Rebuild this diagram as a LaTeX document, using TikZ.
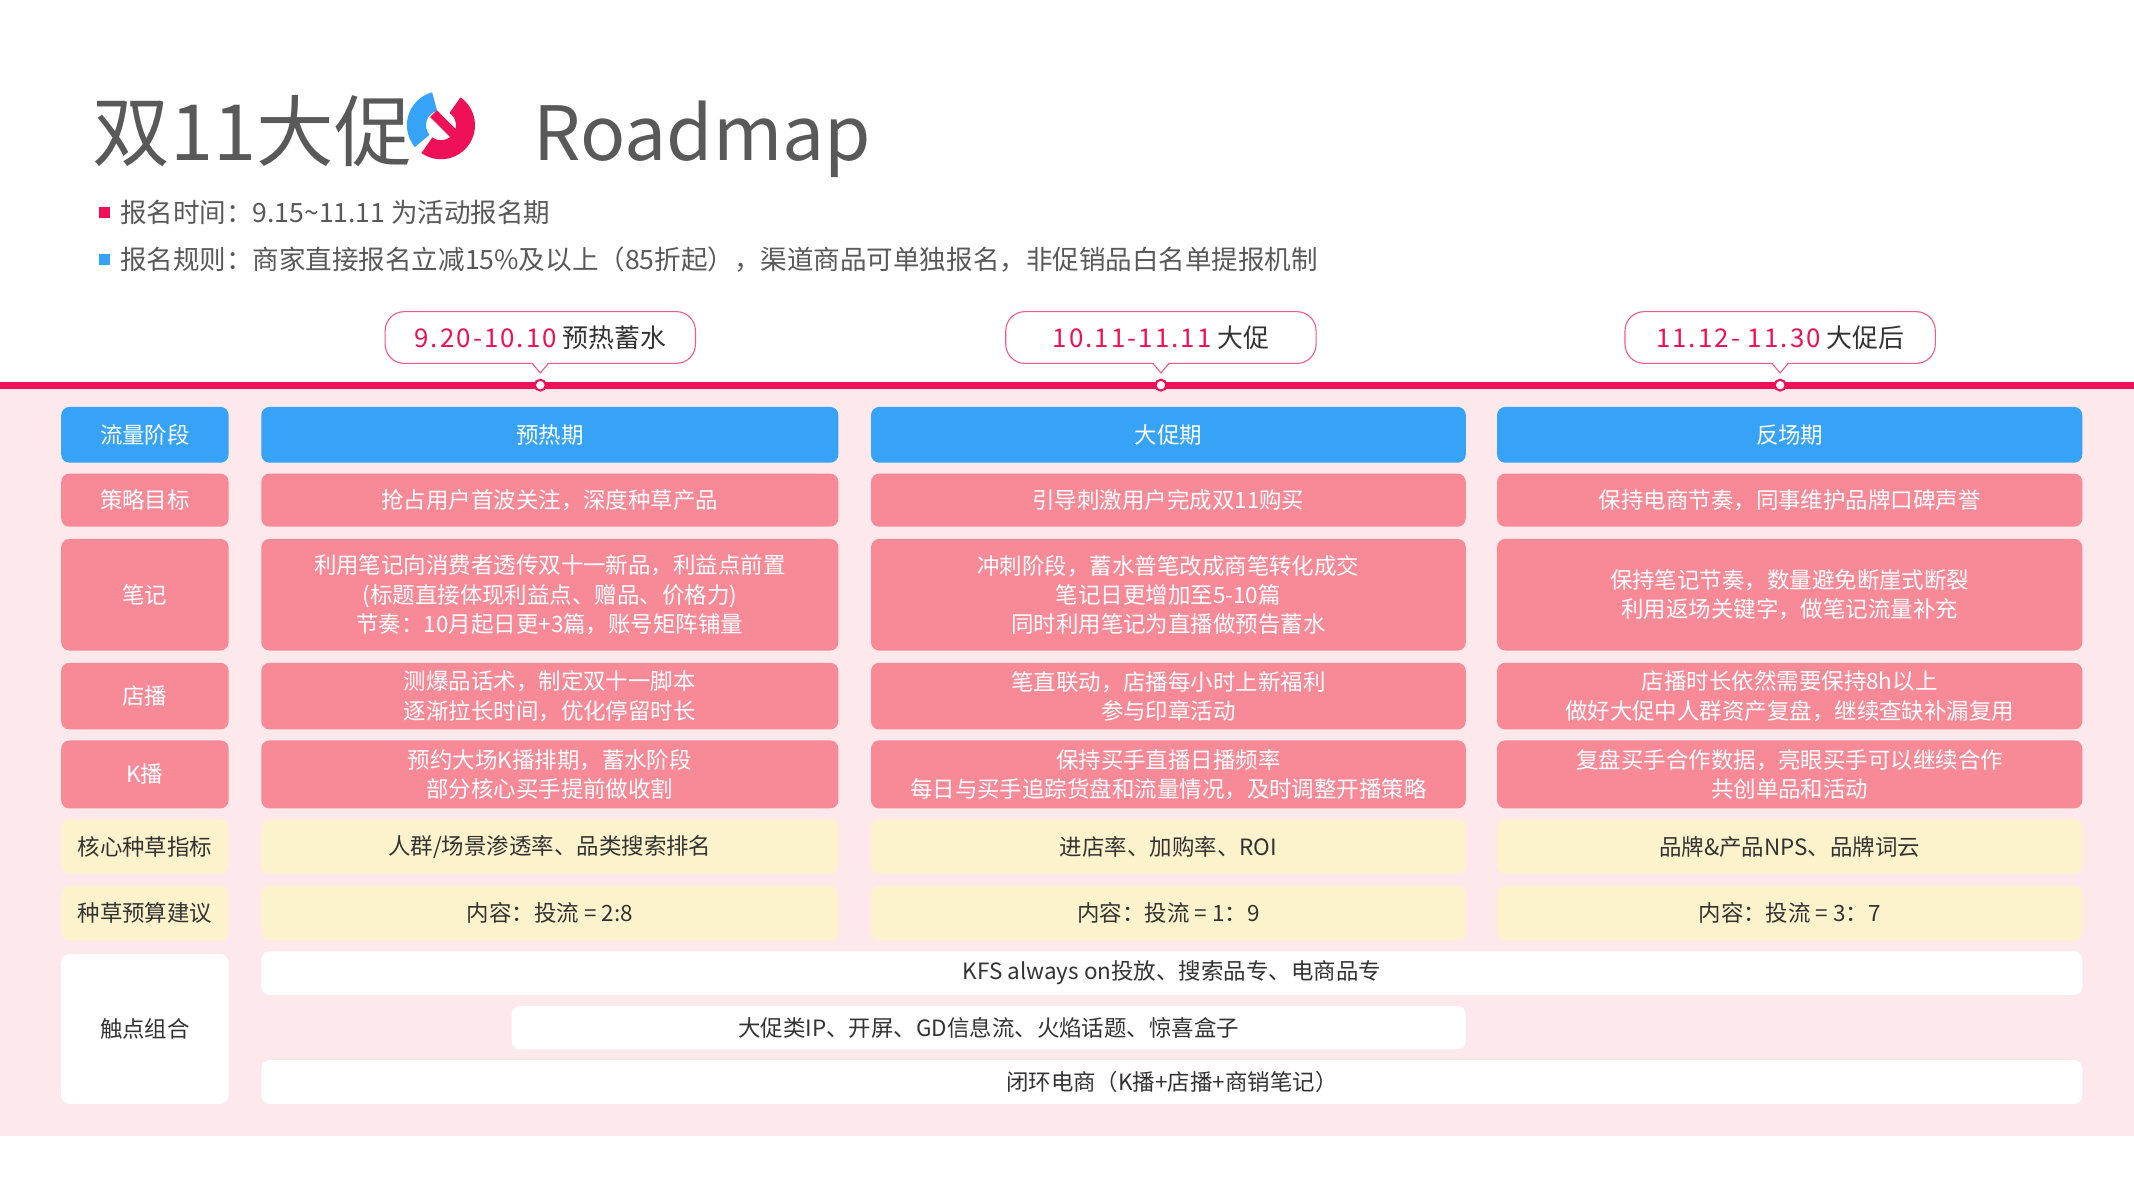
\documentclass[tikz,border=0pt]{standalone}
\usepackage{fontspec}
\setmainfont{Noto Sans CJK SC}
\definecolor{hblue}{HTML}{36A3F7}
\definecolor{cpink}{HTML}{F88A98}
\definecolor{cyel}{HTML}{FCF3CC}
\definecolor{cred}{HTML}{EE1158}
\definecolor{bgp}{HTML}{FDE8EC}
\definecolor{tgray}{HTML}{595959}
\definecolor{tdark}{HTML}{333333}
\newcommand\fs[1]{\fontsize{#1}{\fpeval{#1*1.3}}\selectfont}
\begin{document}
\begin{tikzpicture}[x=1pt,y=-1pt,
 cell/.style={rounded corners=6pt,inner sep=0pt,align=center,font=\fs{16.5}},
 hd/.style={cell,fill=hblue,text=white},
 pk/.style={cell,fill=cpink,text=white},
 yl/.style={cell,fill=cyel,text=tdark},
 wt/.style={cell,fill=white,text=tdark},
 bub/.style={draw=cred!70,line width=0.8pt,fill=white,rounded corners=14pt,minimum width=228pt,minimum height=38pt,font=\fs{19}}]
\useasboundingbox (0,0) rectangle (1568,882);
\fill[white] (0,0) rectangle (1568,882);
\fill[bgp] (0,283) rectangle (1568,835);
% title
\node[anchor=base west,text=tgray,font=\fs{57},inner sep=0pt] (t1) at (68,118) {双11大促};
\node[anchor=base west,text=tgray,font=\fs{55},inner sep=0pt] (t2) at (392,118) {Roadmap};
\begin{scope}[shift={(324,92)},yscale=-1]
 \fill[hblue] (105:25) arc (105:220:25) -- (220:11) arc (220:105:11) -- cycle;
 \fill[cred] (55:25) arc (55:-125:25) -- (-125:11) arc (-125:55:11) -- cycle;
 \fill[cred] (-8,6) -- (-3,11) -- (12,-4) -- (7,-9) -- cycle;
\end{scope}
\fill[cred] (73,152) rectangle (81,160);
\fill[hblue] (73,187) rectangle (81,195);
\node[anchor=west,text=tgray,font=\fs{19.5},inner sep=0pt] (b1) at (88,156) {报名时间：9.15\textasciitilde 11.11 为活动报名期};
\node[anchor=west,text=tgray,font=\fs{19.5},inner sep=0pt] (b2) at (88,191) {报名规则：商家直接报名立减15\%及以上（85折起），渠道商品可单独报名，非促销品白名单提报机制};
% timeline
\draw[cred,line width=5pt] (0,283) -- (1568,283);
\foreach \x/\d/\t [count=\i] in {397/9.20-10.10/预热蓄水,853/10.11-11.11/大促,1308/11.12- 11.30/大促后}{
 \node[bub] (bub\i) at (\x,248) {\textcolor{cred}{\addfontfeature{LetterSpace=8}\d} \textcolor{tdark}{\t}};
 \fill[white] (\x-6,266) -- (\x+6,266) -- (\x,274) -- cycle;
 \draw[cred!70,line width=0.8pt] (\x-6,267) -- (\x,274) -- (\x+6,267);
 \node[circle,draw=cred,fill=white,line width=1.5pt,minimum size=8pt,inner sep=0pt] (dot\i) at (\x,283) {};
}
% rows
\newcommand\rowc[8]{%
 \node[#2,minimum width=123pt,minimum height=#4pt] (#1a) at (106.5,#3) {#5};
 \node[#2,minimum width=424pt,minimum height=#4pt] (#1b) at (404,#3) {#6};
 \node[#2,minimum width=437pt,minimum height=#4pt] (#1c) at (858.5,#3) {#7};
 \node[#2,minimum width=430pt,minimum height=#4pt] (#1d) at (1315,#3) {#8};}
\rowc{h}{hd}{319.5}{41}{流量阶段}{预热期}{大促期}{反场期}
\rowc{s}{pk}{367.5}{39}{策略目标}{抢占用户首波关注，深度种草产品}{引导刺激用户完成双11购买}{保持电商节奏，同事维护品牌口碑声誉}
\rowc{n}{pk}{437}{82}{笔记}{利用笔记向消费者透传双十一新品，利益点前置\\(标题直接体现利益点、赠品、价格力)\\节奏：10月起日更+3篇，账号矩阵铺量}{冲刺阶段，蓄水普笔改成商笔转化成交\\笔记日更增加至5-10篇\\同时利用笔记为直播做预告蓄水}{保持笔记节奏，数量避免断崖式断裂\\利用返场关键字，做笔记流量补充}
\rowc{d}{pk}{511.5}{49}{店播}{测爆品话术，制定双十一脚本\\逐渐拉长时间，优化停留时长}{笔直联动，店播每小时上新福利\\参与印章活动}{店播时长依然需要保持8h以上\\做好大促中人群资产复盘，继续查缺补漏复用}
\rowc{k}{pk}{569}{50}{K播}{预约大场K播排期，蓄水阶段\\部分核心买手提前做收割}{保持买手直播日播频率\\每日与买手追踪货盘和流量情况，及时调整开播策略}{复盘买手合作数据，亮眼买手可以继续合作\\共创单品和活动}
\rowc{z}{yl}{622}{40}{核心种草指标}{人群/场景渗透率、品类搜索排名}{进店率、加购率、ROI}{品牌\&产品NPS、品牌词云}
\rowc{y}{yl}{671}{40}{种草预算建议}{内容：投流 = 2:8}{内容：投流 = 1：9}{内容：投流 = 3：7}
\node[wt,minimum width=123pt,minimum height=110pt] (ca) at (106.5,756) {触点组合};
\node[wt,minimum width=1338pt,minimum height=32pt] (c1) at (861,715) {KFS always on投放、搜索品专、电商品专};
\node[wt,minimum width=701pt,minimum height=32pt] (c2) at (726.5,755) {大促类IP、开屏、GD信息流、火焰话题、惊喜盒子};
\node[wt,minimum width=1338pt,minimum height=32pt] (c3) at (861,795) {闭环电商（K播+店播+商销笔记）};
\end{tikzpicture}
\end{document}
